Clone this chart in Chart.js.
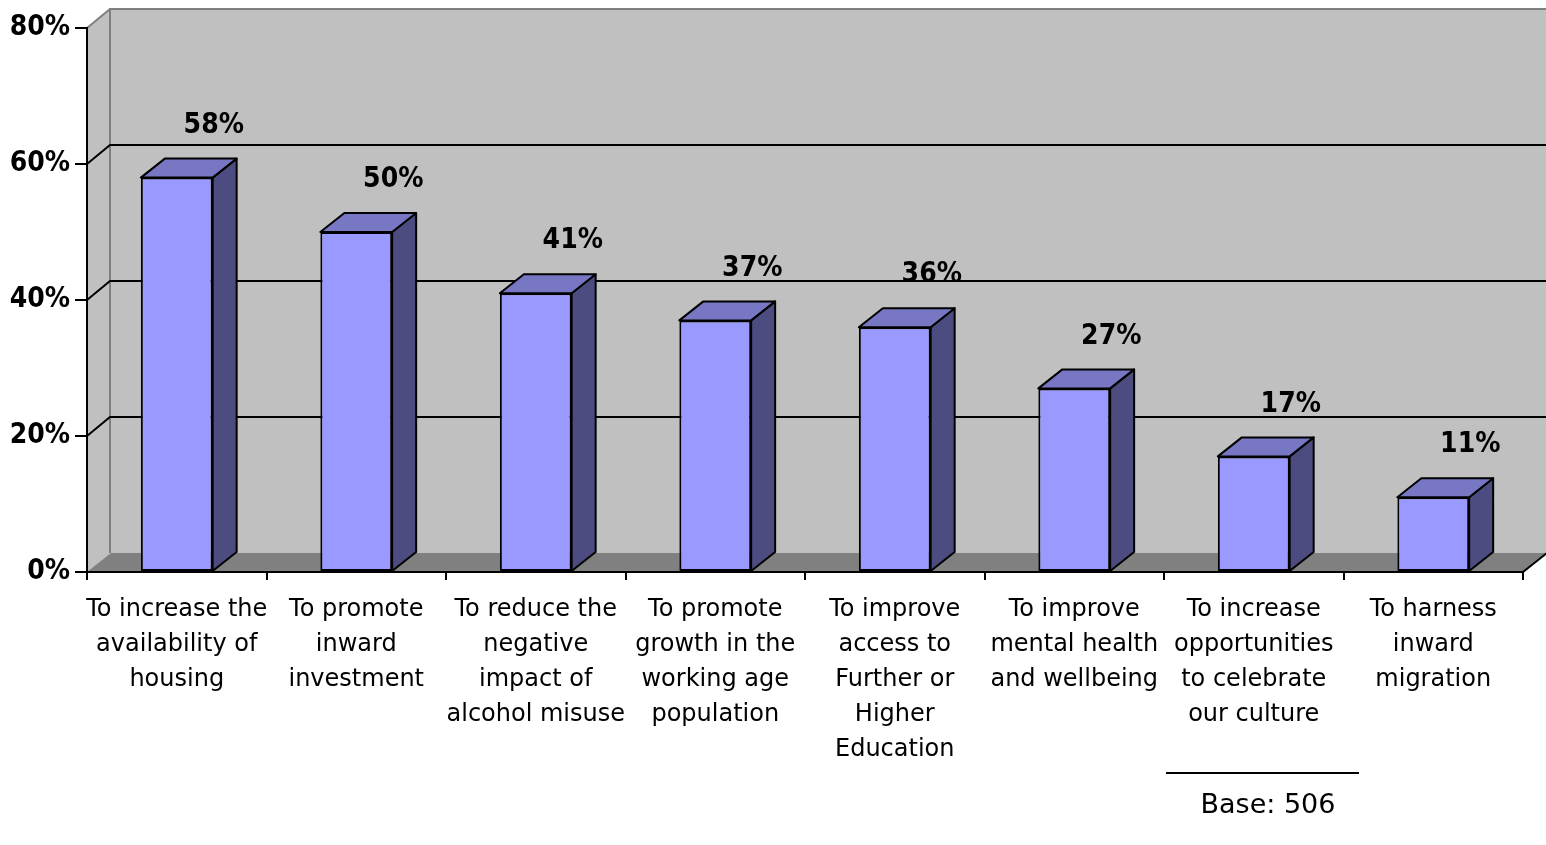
<!DOCTYPE html>
<html lang="en">
<head>
<meta charset="UTF-8">
<title>Reasons</title>
<script src="https://cdn.jsdelivr.net/npm/chart.js"></script>
<style>
  html, body { margin: 0; padding: 0; background: #fff; }
  #wrap { width: 1546px; height: 845px; }
</style>
</head>
<body>
<div id="wrap"><canvas id="chart" width="1546" height="845"></canvas></div>
<script>
const categories = [
  ['To increase the', 'availability of', 'housing'],
  ['To promote', 'inward', 'investment'],
  ['To reduce the', 'negative', 'impact of', 'alcohol misuse'],
  ['To promote', 'growth in the', 'working age', 'population'],
  ['To improve', 'access to', 'Further or', 'Higher', 'Education'],
  ['To improve', 'mental health', 'and wellbeing'],
  ['To increase', 'opportunities', 'to celebrate', 'our culture'],
  ['To harness', 'inward', 'migration']
];
const values = [58, 50, 41, 37, 36, 27, 17, 11];
const yTicks = [0, 20, 40, 60, 80];
const baseNote = 'Base: 506';

const FONT = '"DejaVu Sans Condensed", "DejaVu Sans", sans-serif';
const LABEL_FONT = '"DejaVu Sans", sans-serif';
const DX = 24, DY = 19;

// walls, floor and gridlines behind the bars
const walls = {
  id: 'walls',
  beforeDraw(chart) {
    const ctx = chart.ctx, a = chart.chartArea, y = chart.scales.y;
    ctx.save();
    ctx.fillStyle = '#c0c0c0';
    ctx.beginPath();
    ctx.moveTo(a.left, a.bottom);
    ctx.lineTo(a.left, a.top);
    ctx.lineTo(a.left + DX, a.top - DY);
    ctx.lineTo(a.right + DX, a.top - DY);
    ctx.lineTo(a.right + DX, a.bottom - DY);
    ctx.lineTo(a.right, a.bottom);
    ctx.closePath();
    ctx.fill();
    // floor
    ctx.fillStyle = '#808080';
    ctx.beginPath();
    ctx.moveTo(a.left, a.bottom);
    ctx.lineTo(a.right, a.bottom);
    ctx.lineTo(a.right + DX, a.bottom - DY);
    ctx.lineTo(a.left + DX, a.bottom - DY);
    ctx.closePath();
    ctx.fill();
    // gray edges
    ctx.strokeStyle = '#808080';
    ctx.lineWidth = 2;
    ctx.beginPath();
    ctx.moveTo(a.left + DX - 1, a.bottom - DY);
    ctx.lineTo(a.left + DX - 1, a.top - DY);
    ctx.lineTo(a.right + DX, a.top - DY);
    ctx.moveTo(a.left, a.top);
    ctx.lineTo(a.left + DX - 1, a.top - DY);
    ctx.stroke();
    // gridlines
    ctx.strokeStyle = '#000';
    ctx.beginPath();
    yTicks.slice(1, -1).forEach(v => {
      const py = y.getPixelForValue(v);
      ctx.moveTo(a.left, py);
      ctx.lineTo(a.left + DX - 1, py - DY);
      ctx.lineTo(a.right + DX, py - DY);
    });
    ctx.moveTo(a.right, a.bottom);
    ctx.lineTo(a.right + DX, a.bottom - DY);
    ctx.stroke();
    ctx.restore();
  }
};

// side and top faces, value labels, base note
const boxes = {
  id: 'boxes',
  afterDatasetsDraw(chart) {
    const ctx = chart.ctx;
    const meta = chart.getDatasetMeta(0);
    ctx.save();
    ctx.lineWidth = 2;
    ctx.strokeStyle = '#000';
    ctx.lineJoin = 'round';
    meta.data.forEach((bar, i) => {
      const half = bar.width / 2;
      const l = bar.x - half, r = bar.x + half, t = bar.y, b = bar.base;
      ctx.fillStyle = '#4c4c80';
      ctx.beginPath();
      ctx.moveTo(r, b);
      ctx.lineTo(r, t);
      ctx.lineTo(r + DX, t - DY);
      ctx.lineTo(r + DX, b - DY);
      ctx.closePath();
      ctx.fill();
      ctx.stroke();
      ctx.fillStyle = '#7777c4';
      ctx.beginPath();
      ctx.moveTo(l, t);
      ctx.lineTo(l + DX, t - DY);
      ctx.lineTo(r + DX, t - DY);
      ctx.lineTo(r, t);
      ctx.closePath();
      ctx.fill();
      ctx.stroke();
      ctx.fillStyle = '#000';
      ctx.font = 'bold 28px ' + FONT;
      ctx.textAlign = 'center';
      ctx.textBaseline = 'middle';
      ctx.fillText(values[i] + '%', bar.x + 37, t - 52);
    });
    ctx.font = '27px ' + LABEL_FONT;
    ctx.textAlign = 'center';
    ctx.textBaseline = 'middle';
    ctx.fillText(baseNote, 1268, 806);
    ctx.beginPath();
    ctx.moveTo(1166, 773);
    ctx.lineTo(1359, 773);
    ctx.stroke();
    ctx.restore();
  }
};

new Chart(document.getElementById('chart'), {
  type: 'bar',
  data: {
    labels: categories,
    datasets: [{
      data: values,
      backgroundColor: '#9999ff',
      borderColor: '#000',
      borderWidth: 2,
      borderSkipped: false,
      barPercentage: 0.8,
      categoryPercentage: 0.5
    }]
  },
  options: {
    responsive: false,
    animation: false,
    devicePixelRatio: 1,
    layout: { padding: { top: 28, right: 23, left: 0, bottom: 0 } },
    plugins: { legend: { display: false }, tooltip: { enabled: false } },
    scales: {
      x: {
        grid: { display: true, drawOnChartArea: false, color: '#000', lineWidth: 2, tickLength: 8 },
        border: { display: true, color: '#000', width: 2 },
        ticks: { color: '#000', font: { family: LABEL_FONT, size: 24, lineHeight: 35 / 24 }, padding: 12, maxRotation: 0, autoSkip: false },
        afterFit(s) { s.height = 273; }
      },
      y: {
        min: 0, max: 80,
        afterBuildTicks(s) { s.ticks = yTicks.map(v => ({ value: v })); },
        grid: { display: true, drawOnChartArea: false, color: '#000', lineWidth: 2, tickLength: 12 },
        border: { display: true, color: '#000', width: 2 },
        ticks: { color: '#000', font: { family: FONT, size: 28, weight: 'bold' }, padding: 5, callback: v => v + '%' },
        afterFit(s) { s.width = 87; }
      }
    }
  },
  plugins: [walls, boxes]
});
</script>
</body>
</html>
